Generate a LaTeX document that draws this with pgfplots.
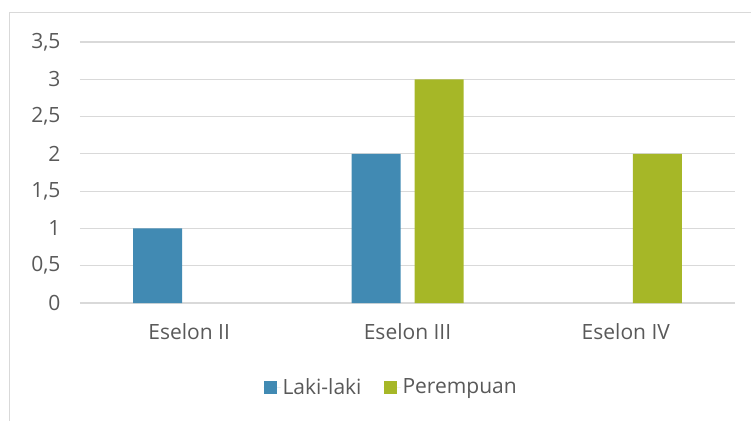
\documentclass[border=0pt]{standalone}
\usepackage{pgfplots}
\pgfplotsset{compat=1.18}
\usepackage{fontspec}
\setmainfont{Open Sans}
\definecolor{txt}{HTML}{595959}
\definecolor{grd}{HTML}{D9D9D9}
\definecolor{cblue}{HTML}{418AB3}
\definecolor{cgreen}{HTML}{A6B727}
\begin{document}
\begin{tikzpicture}
\path[use as bounding box] (-80bp,-118bp) rectangle (671bp,303bp);
\draw[grd, line width=1.2bp] (680bp,290.5bp) -- (-70.5bp,290.5bp) -- (-70.5bp,-130bp);
\begin{axis}[
  at={(0,0)}, anchor=south west,
  scale only axis, width=655bp, height=261bp,
  xmin=-0.5, xmax=2.5, ymin=0, ymax=3.5,
  axis line style={draw=none},
  tick style={draw=none},
  ytick={0,0.5,1,1.5,2,2.5,3,3.5},
  ymajorgrids, grid style={grd, line width=1.2bp},
  xtick={0,1,2},
  xticklabels={Eselon II, Eselon III, Eselon IV},
  /pgf/number format/assume math mode=true,
  /pgf/number format/use comma,
  ticklabel style={font=\fontsize{21bp}{25bp}\selectfont, text=txt},
  yticklabel style={xshift=-16bp},
  xticklabel style={yshift=-13bp},
  ybar, bar width=49bp,
  legend columns=2,
  legend style={at={(0.475,-0.322)}, anchor=center, draw=none, fill=none,
    font=\fontsize{21bp}{25bp}\selectfont, text=txt,
    /tikz/every odd column/.append style={column sep=0bp},
    /tikz/every even column/.append style={column sep=20bp},
    nodes={inner sep=2bp}},
  legend image code/.code={\path (0bp,0bp) -- (17bp,0bp);\fill[#1] (0bp,-6.5bp) rectangle (13bp,6.5bp);},
]
\addplot[fill=cblue, draw=none, bar shift=-31.5bp] coordinates {(0,1) (1,2)};
\addplot[fill=cgreen, draw=none, bar shift=31.5bp] coordinates {(1,3) (2,2)};
\legend{Laki-laki, Perempuan}
\end{axis}
\end{tikzpicture}
\end{document}
